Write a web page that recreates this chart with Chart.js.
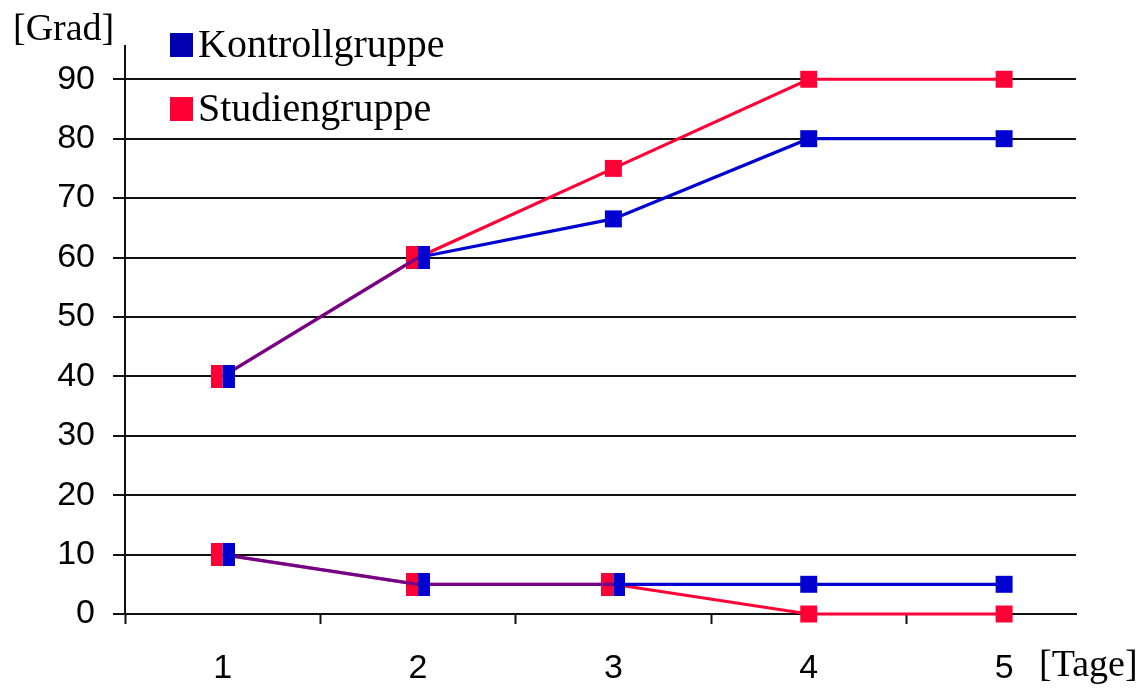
<!DOCTYPE html>
<html>
<head>
<meta charset="utf-8">
<script src="https://cdn.jsdelivr.net/npm/chart.js@4.4.1/dist/chart.umd.min.js"></script>
<style>
  html, body { margin: 0; padding: 0; background: #fff; }
  canvas { display: block; }
</style>
</head>
<body>
<canvas id="chart" width="1144" height="689"></canvas>
<script>
// Tage der Messung
const days = [1, 2, 3, 4, 5];

// Obere Kurven
const kontrollOben = [40, 60, 66.5, 80, 80];
const studienOben  = [40, 60, 75, 90, 90];

// Untere Kurven
const kontrollUnten = [10, 5, 5, 5, 5];
const studienUnten  = [10, 5, 5, 0, 0];

// Achsenbeschriftung
const yTickValues = [0, 10, 20, 30, 40, 50, 60, 70, 80, 90];
const xTickValues = [0.5, 1, 1.5, 2, 2.5, 3, 3.5, 4, 4.5, 5];
const seriesNames = ['Kontrollgruppe', 'Studiengruppe'];
const yTitle = '[Grad]';
const xTitle = '[Tage]';

const BLUE = '#0000d0';
const RED = '#ff0036';
const LEGEND_BLUE = '#0000b0';
const LEGEND_RED = '#ff0034';
const MIX = 'rgba(0, 0, 200, 0.55)';

function toPoints(values) {
  return days.map((d, i) => ({ x: d, y: values[i] }));
}

// Half-width marker used where both groups share the same value
function halfMarker(color, side) {
  const c = document.createElement('canvas');
  c.width = 24;
  c.height = 23;
  const g = c.getContext('2d');
  g.fillStyle = color;
  g.fillRect(side === 'left' ? 0 : 12, 0, 12, 23);
  return c;
}

function makeSeries(label, values, partner, color, side) {
  const half = halfMarker(color, side);
  const same = i => partner[i] === values[i];
  return {
    label: label,
    data: toPoints(values),
    borderColor: color,
    backgroundColor: color,
    borderWidth: 3.2,
    tension: 0,
    pointRadius: 12,
    pointHoverRadius: 12,
    pointBorderWidth: 0,
    pointStyle: ctx => same(ctx.dataIndex) ? half : 'rect',
    segment: {
      borderColor: ctx => (side === 'right' && same(ctx.p0DataIndex) && same(ctx.p1DataIndex)) ? MIX : undefined
    },
    clip: false
  };
}

const datasets = [
  makeSeries(seriesNames[0], kontrollOben, studienOben, BLUE, 'right'),
  makeSeries(seriesNames[0], kontrollUnten, studienUnten, BLUE, 'right'),
  makeSeries(seriesNames[1], studienOben, kontrollOben, RED, 'left'),
  makeSeries(seriesNames[1], studienUnten, kontrollUnten, RED, 'left')
];

const legendColors = [LEGEND_BLUE, LEGEND_RED];

// Legend and axis titles drawn over the plot
const overlay = {
  id: 'overlay',
  afterDraw(chart) {
    const ctx = chart.ctx;
    ctx.save();
    ctx.fillStyle = '#000';
    ctx.textBaseline = 'alphabetic';
    ctx.textAlign = 'left';
    ctx.font = '38px "Liberation Serif", "Times New Roman", serif';
    ctx.fillText(yTitle, 13, 40);
    ctx.fillText(xTitle, 1039, 676);

    ctx.font = '40px "Liberation Serif", "Times New Roman", serif';
    seriesNames.forEach((name, i) => {
      const top = 33 + i * 64;
      ctx.fillStyle = legendColors[i];
      ctx.fillRect(170, top, 23, 24);
      ctx.fillStyle = '#000';
      ctx.fillText(name, 198, top + 24);
    });
    ctx.restore();
  }
};

const tickFont = { family: '"Liberation Sans", Arial, sans-serif', size: 34 };

new Chart(document.getElementById('chart'), {
  type: 'line',
  data: { datasets: datasets },
  options: {
    responsive: false,
    animation: false,
    devicePixelRatio: 1,
    layout: { padding: { top: 46, right: 68, left: 0, bottom: 0 } },
    plugins: {
      legend: { display: false },
      tooltip: { enabled: false }
    },
    scales: {
      x: {
        type: 'linear',
        min: 0.5,
        max: 5.368,
        afterBuildTicks: s => { s.ticks = xTickValues.map(v => ({ value: v })); },
        afterFit: s => { s.height = 75; },
        ticks: {
          autoSkip: false,
          maxRotation: 0,
          minRotation: 0,
          padding: 24,
          color: '#000',
          font: tickFont,
          callback: v => Number.isInteger(v) ? String(v) : ''
        },
        grid: {
          drawOnChartArea: false,
          drawTicks: true,
          tickLength: 10,
          tickWidth: 2,
          tickColor: ctx => (ctx.tick && Number.isInteger(ctx.tick.value)) ? 'rgba(0,0,0,0)' : '#111'
        },
        border: { display: true, color: '#111', width: 2 }
      },
      y: {
        min: 0,
        max: 95.6,
        afterBuildTicks: s => { s.ticks = yTickValues.map(v => ({ value: v })); },
        afterFit: s => { s.width = 125; },
        ticks: {
          padding: 18,
          color: '#000',
          font: tickFont,
          callback: v => String(v)
        },
        grid: {
          color: '#111',
          lineWidth: 2,
          tickLength: 12,
          drawTicks: true
        },
        border: { display: true, color: '#111', width: 2 }
      }
    }
  },
  plugins: [overlay]
});
</script>
</body>
</html>
